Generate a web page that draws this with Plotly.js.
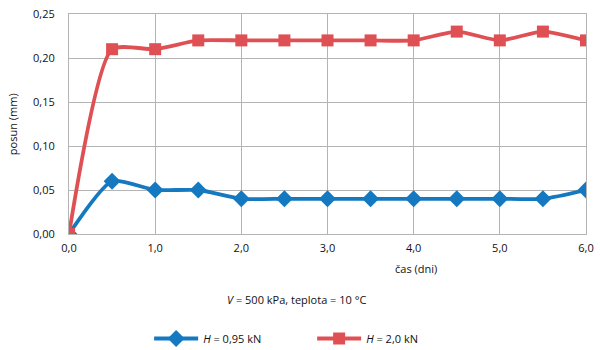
<!DOCTYPE html>
<html>
<head>
<meta charset="utf-8">
<script src="https://cdn.plot.ly/plotly-3.0.1.min.js"></script>
<style>html,body{margin:0;padding:0;background:#fff;}#chart{width:600px;height:350px;}</style>
</head>
<body>
<div id="chart"></div>
<script>
var time = [0, 0.5, 1.0, 1.5, 2.0, 2.5, 3.0, 3.5, 4.0, 4.5, 5.0, 5.5, 6.0];
var h095 = [0.00, 0.06, 0.05, 0.05, 0.04, 0.04, 0.04, 0.04, 0.04, 0.04, 0.04, 0.04, 0.05];
var h20 = [0.00, 0.21, 0.21, 0.22, 0.22, 0.22, 0.22, 0.22, 0.22, 0.23, 0.22, 0.23, 0.22];
var xTicks = [0, 1, 2, 3, 4, 5, 6];
var yTicks = [0, 0.05, 0.10, 0.15, 0.20, 0.25];

var FONT = "Open Sans, Noto Sans, sans-serif";
var BLUE = "#1479c0";
var RED = "#df5054";
var GRID = "#b4b4b4";
var TXT = "#111";

var traces = [
  {x: time, y: h095, name: "<i>H</i> = 0,95 kN", type: "scatter", mode: "lines+markers",
   line: {color: BLUE, width: 3.8, shape: "spline", smoothing: 0.6},
   marker: {symbol: "diamond", size: 13, color: BLUE}},
  {x: time, y: h20, name: "<i>H</i> = 2,0 kN", type: "scatter", mode: "lines+markers",
   line: {color: RED, width: 3.8, shape: "spline", smoothing: 0.6},
   marker: {symbol: "square", size: 12, color: RED}}
];

var layout = {
  width: 600, height: 350,
  margin: {l: 69, r: 14, t: 14, b: 116, autoexpand: false},
  paper_bgcolor: "#fff", plot_bgcolor: "#fff",
  separators: ", ",
  font: {family: FONT, size: 11, color: TXT},
  xaxis: {range: [0, 6], tickvals: xTicks, tickformat: ".1f", showgrid: true, gridcolor: GRID, gridwidth: 1,
          zeroline: false, showline: true, mirror: true, linecolor: GRID, linewidth: 1, ticks: "",
          ticklabelstandoff: 4, tickfont: {size: 11, family: FONT, color: TXT}, fixedrange: true, automargin: false},
  yaxis: {range: [0, 0.25], tickvals: yTicks, tickformat: ".2f", showgrid: true, gridcolor: GRID, gridwidth: 1,
          zeroline: false, showline: true, mirror: true, linecolor: GRID, linewidth: 1, ticks: "",
          ticklabelstandoff: 11, tickfont: {size: 11, family: FONT, color: TXT}, fixedrange: true, automargin: false},
  showlegend: true,
  legend: {orientation: "h", x: 0.155, xanchor: "left", y: -0.475, yanchor: "middle",
           itemwidth: 44, entrywidth: 104, font: {size: 11, family: FONT, color: TXT}, traceorder: "normal"},
  annotations: [
    {text: "posun (mm)", textangle: -90, xref: "paper", yref: "paper", x: -0.11, y: 0.5,
     xanchor: "center", yanchor: "middle", showarrow: false, font: {size: 11, family: FONT, color: TXT}},
    {text: "čas (dni)", xref: "paper", yref: "paper", x: (416 - 69) / 517, y: (234 - 268) / 220,
     xanchor: "center", yanchor: "middle", showarrow: false, font: {size: 11, family: FONT, color: TXT}},
    {text: "<i>V</i> = 500 kPa, teplota = 10 °C", xref: "paper", yref: "paper", x: (296 - 69) / 517, y: (234 - 299) / 220,
     xanchor: "center", yanchor: "middle", showarrow: false, font: {size: 11, family: FONT, color: TXT}}
  ]
};

Plotly.newPlot("chart", traces, layout, {displayModeBar: false, staticPlot: true});
</script>
</body>
</html>
